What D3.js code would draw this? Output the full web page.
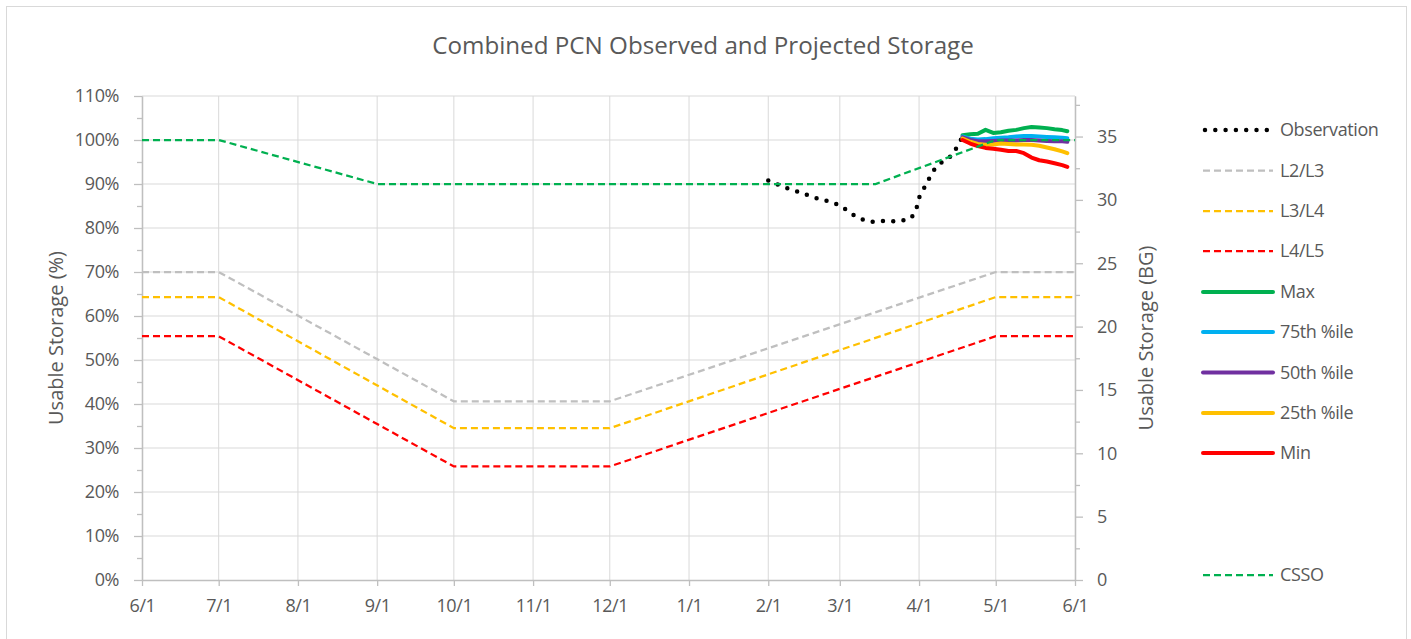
<!DOCTYPE html>
<meta charset="utf-8">
<script src="https://d3js.org/d3.v7.min.js"></script>
<style>
body { margin: 0; background: #fff; }
svg text { font-family: "Open Sans", "Noto Sans", sans-serif; fill: #595959; }
.grid line { stroke: #d9d9d9; stroke-width: 1px; }
.axis path, .axis line { stroke: #bfbfbf; stroke-width: 1.3px; }
.axis text { font-size: 18px; letter-spacing: -0.4px; }
</style>
<body></body>
<script>
// x axis tick labels (one per month)
var monthTicks = ["2018-06-01","2018-07-01","2018-08-01","2018-09-01","2018-10-01","2018-11-01",
  "2018-12-01","2019-01-01","2019-02-01","2019-03-01","2019-04-01","2019-05-01","2019-06-01"];
var monthLabels = ["6/1","7/1","8/1","9/1","10/1","11/1","12/1","1/1","2/1","3/1","4/1","5/1","6/1"];
var pctTicks = [0,10,20,30,40,50,60,70,80,90,100,110];
var bgTicks = [0,5,10,15,20,25,30,35];

// drought level rule curves (% usable storage)
var ruleDates = ["2018-06-01","2018-07-01","2018-10-01","2018-12-01","2019-05-01","2019-06-01"];
var l2l3 = [70, 70, 40.6, 40.6, 70, 70];
var l3l4 = [64.3, 64.3, 34.5, 34.5, 64.3, 64.3];
var l4l5 = [55.4, 55.4, 25.8, 25.8, 55.4, 55.4];

var cssoDates = ["2018-06-01","2018-07-01","2018-09-01","2019-03-15","2019-05-01","2019-06-01"];
var cssoValues = [100, 100, 90, 90, 100, 100];

// observed storage
var obsDates = ["2019-02-01","2019-02-05","2019-02-09","2019-02-14","2019-02-18","2019-02-22","2019-02-26",
  "2019-03-02","2019-03-05","2019-03-09","2019-03-13","2019-03-17","2019-03-21","2019-03-25","2019-03-29",
  "2019-03-31","2019-04-01","2019-04-03","2019-04-05","2019-04-07","2019-04-10","2019-04-14","2019-04-16","2019-04-18"];
var obsValues = [90.8, 89.8, 88.9, 88.0, 87.1, 86.4, 85.9, 84.8, 83.4, 82.1, 81.4, 81.6, 81.5, 81.6, 82.3,
  84.5, 86.9, 89.1, 91.3, 93.3, 95.0, 96.5, 98.6, 100.75];

// projections
var projDates = ["2019-04-18","2019-04-21","2019-04-24","2019-04-27","2019-04-30","2019-05-03","2019-05-06",
  "2019-05-09","2019-05-12","2019-05-15","2019-05-18","2019-05-21","2019-05-24","2019-05-27","2019-05-29"];
var maxValues = [101.1, 101.3, 101.4, 102.3, 101.6, 101.75, 102.1, 102.3, 102.7, 102.95, 102.85, 102.7, 102.45, 102.25, 102.0];
var p75Values = [100.8, 100.3, 100.1, 100.2, 100.4, 100.5, 100.6, 100.8, 100.9, 100.9, 100.8, 100.7, 100.6, 100.5, 100.4];
var p50Values = [100.6, 100.0, 99.7, 99.7, 99.8, 99.9, 99.9, 99.9, 100.0, 100.0, 99.9, 99.8, 99.7, 99.7, 99.6];
var p25Values = [100.3, 99.6, 99.1, 98.9, 99.0, 99.2, 99.1, 99.0, 99.0, 98.9, 98.7, 98.3, 97.9, 97.4, 97.0];
var minValues = [100.0, 99.2, 98.6, 98.2, 98.0, 97.8, 97.5, 97.5, 97.0, 96.0, 95.4, 95.1, 94.7, 94.3, 93.9];

var parse = d3.timeParse("%Y-%m-%d");

var series = [
  {name: "Observation", color: "#000", kind: "dot", dates: obsDates, values: obsValues},
  {name: "L2/L3", color: "#bfbfbf", kind: "dash", dates: ruleDates, values: l2l3},
  {name: "L3/L4", color: "#ffc000", kind: "dash", dates: ruleDates, values: l3l4},
  {name: "L4/L5", color: "#ff0000", kind: "dash", dates: ruleDates, values: l4l5},
  {name: "Max", color: "#00b050", kind: "solid", dates: projDates, values: maxValues},
  {name: "75th %ile", color: "#00b0f0", kind: "solid", dates: projDates, values: p75Values},
  {name: "50th %ile", color: "#7030a0", kind: "solid", dates: projDates, values: p50Values},
  {name: "25th %ile", color: "#ffc000", kind: "solid", dates: projDates, values: p25Values},
  {name: "Min", color: "#ff0000", kind: "solid", dates: projDates, values: minValues},
  {name: "CSSO", color: "#00b050", kind: "dash", dates: cssoDates, values: cssoValues}
];

var W = 1411, H = 639;
var margin = {top: 96, left: 142, right: 336, bottom: 59};
var width = W - margin.left - margin.right,
    height = H - margin.top - margin.bottom;

var svg = d3.select("body").append("svg")
    .attr("width", W)
    .attr("height", H);

svg.append("rect")
    .attr("x", 6.5).attr("y", 6.5)
    .attr("width", 1400).attr("height", 640)
    .attr("fill", "#fff").attr("stroke", "#d9d9d9");

svg.append("text")
    .attr("x", 703).attr("y", 54)
    .attr("text-anchor", "middle")
    .style("font-size", "24.2px")
    .text("Combined PCN Observed and Projected Storage");

var g = svg.append("g")
    .attr("transform", "translate(" + margin.left + "," + margin.top + ")");

var x = d3.scaleTime()
    .domain([parse(monthTicks[0]), parse(monthTicks[monthTicks.length - 1])])
    .range([0, width]);
var y = d3.scaleLinear().domain([0, 110]).range([height, 0]);
var y2 = d3.scaleLinear().domain([0, 38.2]).range([height, 0]);

// gridlines
g.append("g").attr("class", "grid")
  .selectAll("line").data(pctTicks.slice(1)).enter().append("line")
    .attr("x1", 0).attr("x2", width)
    .attr("y1", function(d) { return y(d); }).attr("y2", function(d) { return y(d); });
g.append("g").attr("class", "grid")
  .selectAll("line").data(monthTicks.slice(1, -1)).enter().append("line")
    .attr("y1", 0).attr("y2", height)
    .attr("x1", function(d) { return x(parse(d)); }).attr("x2", function(d) { return x(parse(d)); });

// minor ticks
var minorLeft = pctTicks.slice(0, -1).map(function(d) { return d + 5; });
var minorRight = bgTicks.map(function(d) { return d + 2.5; });

var xAxis = d3.axisBottom(x)
    .tickValues(monthTicks.map(parse))
    .tickFormat(function(d, i) { return monthLabels[i]; })
    .tickSize(6).tickSizeOuter(0).tickPadding(13);
g.append("g").attr("class", "axis")
    .attr("transform", "translate(0," + height + ")")
    .call(xAxis);

g.append("g").attr("class", "axis")
    .call(d3.axisLeft(y).tickValues(pctTicks).tickFormat(function(d) { return d + "%"; })
      .tickSize(8).tickSizeOuter(0).tickPadding(15));
g.append("g").attr("class", "axis")
    .call(d3.axisLeft(y).tickValues(minorLeft).tickFormat("").tickSize(5).tickSizeOuter(0));

g.append("g").attr("class", "axis")
    .attr("transform", "translate(" + width + ",0)")
    .call(d3.axisRight(y2).tickValues(bgTicks).tickSize(8).tickSizeOuter(0).tickPadding(14));
g.append("g").attr("class", "axis")
    .attr("transform", "translate(" + width + ",0)")
    .call(d3.axisRight(y2).tickValues(minorRight).tickFormat("").tickSize(5).tickSizeOuter(0));

// axis titles
svg.append("text")
    .attr("transform", "translate(63," + (margin.top + height / 2) + ") rotate(-90)")
    .attr("text-anchor", "middle")
    .style("font-size", "20px")
    .text("Usable Storage (%)");
svg.append("text")
    .attr("transform", "translate(1153," + (margin.top + height / 2) + ") rotate(-90)")
    .attr("text-anchor", "middle")
    .style("font-size", "20px")
    .text("Usable Storage (BG)");

function styleLine(sel, s) {
  sel.attr("fill", "none").attr("stroke", s.color);
  if (s.kind == "dash") sel.attr("stroke-width", 2.25).attr("stroke-dasharray", "7,4");
  else if (s.kind == "dot") sel.attr("stroke-width", 4.5).attr("stroke-linecap", "round").attr("stroke-dasharray", "0,10.3");
  else sel.attr("stroke-width", 4).attr("stroke-linejoin", "round").attr("stroke-linecap", "round");
}

var line = d3.line()
    .x(function(d) { return x(d.date); })
    .y(function(d) { return y(d.value); });

series.forEach(function(s) {
  var pts = s.dates.map(function(d, i) { return {date: parse(d), value: s.values[i]}; });
  g.append("path").datum(pts).attr("d", line).call(styleLine, s);
});

// legend
var legendY = [130, 170.5, 211, 251, 292, 332, 372.5, 413, 453, 575];
var legend = svg.selectAll(".legendItem")
  .data(series).enter().append("g")
    .attr("class", "legendItem")
    .attr("transform", function(d, i) { return "translate(1203," + legendY[i] + ")"; });
legend.append("line")
    .attr("x1", function(d) { return d.kind == "dot" ? 2 : 0; }).attr("x2", 70)
    .attr("y1", 0).attr("y2", 0)
    .each(function(d) { d3.select(this).call(styleLine, d); });
legend.append("text")
    .attr("x", 77).attr("dy", "0.35em")
    .style("font-size", "18px")
    .style("letter-spacing", "-0.4px")
    .text(function(d) { return d.name; });
</script>
